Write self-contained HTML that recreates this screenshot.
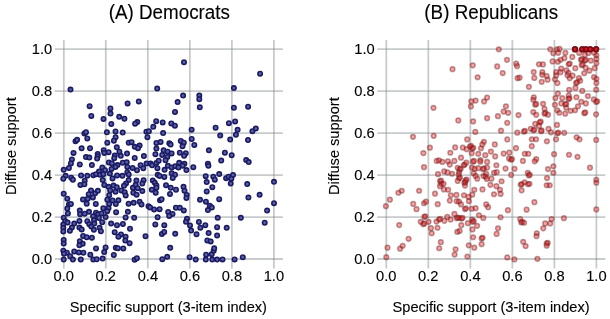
<!DOCTYPE html>
<html><head><meta charset="utf-8"><style>
html,body{margin:0;padding:0;background:#fff;}
svg{display:block;font-family:"Liberation Sans",sans-serif;will-change:transform;}
</style></head><body>
<svg width="610" height="319" viewBox="0 0 610 319">
<g stroke="rgba(130,136,138,0.44)" stroke-width="1.8"><line x1="63.80" y1="40" x2="63.80" y2="268.5" /><line x1="105.82" y1="40" x2="105.82" y2="268.5" /><line x1="147.84" y1="40" x2="147.84" y2="268.5" /><line x1="189.86" y1="40" x2="189.86" y2="268.5" /><line x1="231.88" y1="40" x2="231.88" y2="268.5" /><line x1="273.90" y1="40" x2="273.90" y2="268.5" /><line x1="54.80" y1="259.00" x2="282.90" y2="259.00" /><line x1="54.80" y1="217.04" x2="282.90" y2="217.04" /><line x1="54.80" y1="175.08" x2="282.90" y2="175.08" /><line x1="54.80" y1="133.12" x2="282.90" y2="133.12" /><line x1="54.80" y1="91.16" x2="282.90" y2="91.16" /><line x1="54.80" y1="49.20" x2="282.90" y2="49.20" /><line x1="386.30" y1="40" x2="386.30" y2="268.5" /><line x1="428.32" y1="40" x2="428.32" y2="268.5" /><line x1="470.34" y1="40" x2="470.34" y2="268.5" /><line x1="512.36" y1="40" x2="512.36" y2="268.5" /><line x1="554.38" y1="40" x2="554.38" y2="268.5" /><line x1="596.40" y1="40" x2="596.40" y2="268.5" /><line x1="377.30" y1="259.00" x2="605.40" y2="259.00" /><line x1="377.30" y1="217.04" x2="605.40" y2="217.04" /><line x1="377.30" y1="175.08" x2="605.40" y2="175.08" /><line x1="377.30" y1="133.12" x2="605.40" y2="133.12" /><line x1="377.30" y1="91.16" x2="605.40" y2="91.16" /><line x1="377.30" y1="49.20" x2="605.40" y2="49.20" /></g><g fill="#000" stroke="#000" stroke-width="0.12"><text transform="translate(169.3,19.0) scale(1,1.05)" font-size="18.8" text-anchor="middle">(A) Democrats</text><text transform="translate(491.2,19.0) scale(1,1.05)" font-size="18.8" text-anchor="middle">(B) Republicans</text><text transform="translate(63.80,280.9) scale(1.05,1)" font-size="14" text-anchor="middle">0.0</text><text transform="translate(105.82,280.9) scale(1.05,1)" font-size="14" text-anchor="middle">0.2</text><text transform="translate(147.84,280.9) scale(1.05,1)" font-size="14" text-anchor="middle">0.4</text><text transform="translate(189.86,280.9) scale(1.05,1)" font-size="14" text-anchor="middle">0.6</text><text transform="translate(231.88,280.9) scale(1.05,1)" font-size="14" text-anchor="middle">0.8</text><text transform="translate(273.90,280.9) scale(1.05,1)" font-size="14" text-anchor="middle">1.0</text><text transform="translate(52.15,263.95) scale(1.05,1)" font-size="14" text-anchor="end">0.0</text><text transform="translate(52.15,221.99) scale(1.05,1)" font-size="14" text-anchor="end">0.2</text><text transform="translate(52.15,180.03) scale(1.05,1)" font-size="14" text-anchor="end">0.4</text><text transform="translate(52.15,138.07) scale(1.05,1)" font-size="14" text-anchor="end">0.6</text><text transform="translate(52.15,96.11) scale(1.05,1)" font-size="14" text-anchor="end">0.8</text><text transform="translate(52.15,54.15) scale(1.05,1)" font-size="14" text-anchor="end">1.0</text><text x="168.40" y="311.7" font-size="14.6" text-anchor="middle">Specific support (3-item index)</text><text transform="translate(16.00,146.2) rotate(-90) scale(1,1.06)" font-size="14.6" text-anchor="middle">Diffuse support</text><text transform="translate(386.30,280.9) scale(1.05,1)" font-size="14" text-anchor="middle">0.0</text><text transform="translate(428.32,280.9) scale(1.05,1)" font-size="14" text-anchor="middle">0.2</text><text transform="translate(470.34,280.9) scale(1.05,1)" font-size="14" text-anchor="middle">0.4</text><text transform="translate(512.36,280.9) scale(1.05,1)" font-size="14" text-anchor="middle">0.6</text><text transform="translate(554.38,280.9) scale(1.05,1)" font-size="14" text-anchor="middle">0.8</text><text transform="translate(596.40,280.9) scale(1.05,1)" font-size="14" text-anchor="middle">1.0</text><text transform="translate(374.65,263.95) scale(1.05,1)" font-size="14" text-anchor="end">0.0</text><text transform="translate(374.65,221.99) scale(1.05,1)" font-size="14" text-anchor="end">0.2</text><text transform="translate(374.65,180.03) scale(1.05,1)" font-size="14" text-anchor="end">0.4</text><text transform="translate(374.65,138.07) scale(1.05,1)" font-size="14" text-anchor="end">0.6</text><text transform="translate(374.65,96.11) scale(1.05,1)" font-size="14" text-anchor="end">0.8</text><text transform="translate(374.65,54.15) scale(1.05,1)" font-size="14" text-anchor="end">1.0</text><text x="491.10" y="311.7" font-size="14.6" text-anchor="middle">Specific support (3-item index)</text><text transform="translate(338.50,146.2) rotate(-90) scale(1,1.06)" font-size="14.6" text-anchor="middle">Diffuse support</text></g><g fill="#5b5ea8" stroke="#1a1b62" stroke-width="1.6"><circle cx="184.00" cy="62.25" r="2.2"/><circle cx="260.10" cy="73.65" r="2.2"/><circle cx="70.50" cy="89.55" r="2.2"/><circle cx="89.60" cy="106.15" r="2.2"/><circle cx="91.30" cy="115.95" r="2.2"/><circle cx="103.50" cy="118.95" r="2.2"/><circle cx="110.40" cy="108.45" r="2.2"/><circle cx="110.50" cy="113.55" r="2.2"/><circle cx="119.20" cy="116.85" r="2.2"/><circle cx="124.40" cy="118.75" r="2.2"/><circle cx="127.60" cy="103.45" r="2.2"/><circle cx="111.30" cy="123.95" r="2.2"/><circle cx="157.20" cy="88.55" r="2.2"/><circle cx="138.80" cy="101.55" r="2.2"/><circle cx="183.10" cy="95.55" r="2.2"/><circle cx="177.60" cy="102.05" r="2.2"/><circle cx="175.00" cy="111.95" r="2.2"/><circle cx="199.30" cy="95.55" r="2.2"/><circle cx="199.30" cy="99.15" r="2.2"/><circle cx="199.80" cy="107.35" r="2.2"/><circle cx="137.30" cy="122.05" r="2.2"/><circle cx="156.20" cy="121.15" r="2.2"/><circle cx="162.70" cy="122.45" r="2.2"/><circle cx="171.30" cy="123.45" r="2.2"/><circle cx="233.90" cy="88.05" r="2.2"/><circle cx="233.90" cy="107.75" r="2.2"/><circle cx="248.10" cy="106.65" r="2.2"/><circle cx="235.10" cy="121.45" r="2.2"/><circle cx="228.90" cy="123.15" r="2.2"/><circle cx="84.40" cy="133.55" r="2.2"/><circle cx="86.00" cy="132.15" r="2.2"/><circle cx="87.30" cy="138.45" r="2.2"/><circle cx="75.50" cy="141.15" r="2.2"/><circle cx="77.10" cy="139.85" r="2.2"/><circle cx="106.90" cy="132.35" r="2.2"/><circle cx="115.50" cy="131.45" r="2.2"/><circle cx="122.70" cy="132.55" r="2.2"/><circle cx="115.60" cy="137.15" r="2.2"/><circle cx="113.90" cy="140.65" r="2.2"/><circle cx="107.30" cy="142.65" r="2.2"/><circle cx="128.70" cy="142.75" r="2.2"/><circle cx="131.60" cy="142.15" r="2.2"/><circle cx="81.60" cy="148.35" r="2.2"/><circle cx="90.00" cy="148.35" r="2.2"/><circle cx="73.50" cy="152.95" r="2.2"/><circle cx="86.00" cy="157.05" r="2.2"/><circle cx="89.30" cy="157.55" r="2.2"/><circle cx="71.90" cy="159.45" r="2.2"/><circle cx="70.90" cy="163.45" r="2.2"/><circle cx="79.80" cy="164.45" r="2.2"/><circle cx="91.90" cy="165.05" r="2.2"/><circle cx="116.80" cy="147.35" r="2.2"/><circle cx="134.80" cy="146.85" r="2.2"/><circle cx="103.70" cy="150.25" r="2.2"/><circle cx="104.30" cy="152.95" r="2.2"/><circle cx="108.60" cy="152.25" r="2.2"/><circle cx="119.40" cy="151.65" r="2.2"/><circle cx="120.80" cy="155.85" r="2.2"/><circle cx="127.00" cy="153.55" r="2.2"/><circle cx="114.80" cy="155.55" r="2.2"/><circle cx="114.20" cy="158.15" r="2.2"/><circle cx="97.70" cy="153.95" r="2.2"/><circle cx="97.70" cy="156.25" r="2.2"/><circle cx="97.10" cy="158.55" r="2.2"/><circle cx="108.90" cy="162.45" r="2.2"/><circle cx="111.90" cy="163.45" r="2.2"/><circle cx="122.70" cy="162.75" r="2.2"/><circle cx="126.70" cy="162.15" r="2.2"/><circle cx="117.50" cy="165.05" r="2.2"/><circle cx="153.30" cy="126.85" r="2.2"/><circle cx="174.90" cy="125.65" r="2.2"/><circle cx="146.40" cy="131.75" r="2.2"/><circle cx="148.90" cy="131.25" r="2.2"/><circle cx="147.40" cy="137.15" r="2.2"/><circle cx="163.10" cy="133.05" r="2.2"/><circle cx="191.60" cy="129.75" r="2.2"/><circle cx="191.70" cy="138.95" r="2.2"/><circle cx="194.30" cy="144.95" r="2.2"/><circle cx="139.60" cy="145.55" r="2.2"/><circle cx="138.00" cy="148.15" r="2.2"/><circle cx="156.40" cy="142.95" r="2.2"/><circle cx="160.60" cy="141.95" r="2.2"/><circle cx="156.40" cy="148.55" r="2.2"/><circle cx="169.30" cy="143.25" r="2.2"/><circle cx="170.60" cy="144.55" r="2.2"/><circle cx="180.80" cy="140.95" r="2.2"/><circle cx="183.80" cy="142.65" r="2.2"/><circle cx="182.50" cy="146.25" r="2.2"/><circle cx="163.60" cy="150.35" r="2.2"/><circle cx="167.60" cy="151.65" r="2.2"/><circle cx="171.60" cy="153.45" r="2.2"/><circle cx="155.40" cy="154.15" r="2.2"/><circle cx="162.20" cy="154.95" r="2.2"/><circle cx="143.90" cy="156.05" r="2.2"/><circle cx="179.80" cy="152.75" r="2.2"/><circle cx="185.80" cy="153.15" r="2.2"/><circle cx="184.10" cy="155.75" r="2.2"/><circle cx="215.60" cy="127.75" r="2.2"/><circle cx="237.60" cy="129.85" r="2.2"/><circle cx="235.90" cy="134.65" r="2.2"/><circle cx="220.20" cy="135.55" r="2.2"/><circle cx="230.20" cy="139.55" r="2.2"/><circle cx="248.00" cy="140.05" r="2.2"/><circle cx="252.40" cy="131.15" r="2.2"/><circle cx="255.80" cy="128.55" r="2.2"/><circle cx="208.90" cy="150.35" r="2.2"/><circle cx="224.90" cy="152.75" r="2.2"/><circle cx="231.70" cy="155.15" r="2.2"/><circle cx="221.20" cy="160.55" r="2.2"/><circle cx="207.90" cy="163.75" r="2.2"/><circle cx="208.40" cy="165.85" r="2.2"/><circle cx="246.20" cy="160.05" r="2.2"/><circle cx="248.70" cy="162.05" r="2.2"/><circle cx="68.90" cy="167.95" r="2.2"/><circle cx="63.70" cy="169.85" r="2.2"/><circle cx="65.60" cy="175.85" r="2.2"/><circle cx="63.30" cy="178.75" r="2.2"/><circle cx="71.20" cy="177.75" r="2.2"/><circle cx="72.90" cy="179.75" r="2.2"/><circle cx="81.10" cy="175.45" r="2.2"/><circle cx="87.30" cy="175.85" r="2.2"/><circle cx="93.30" cy="175.15" r="2.2"/><circle cx="84.70" cy="180.75" r="2.2"/><circle cx="115.50" cy="166.95" r="2.2"/><circle cx="111.50" cy="168.95" r="2.2"/><circle cx="127.30" cy="166.95" r="2.2"/><circle cx="132.60" cy="167.95" r="2.2"/><circle cx="102.30" cy="167.55" r="2.2"/><circle cx="105.00" cy="170.25" r="2.2"/><circle cx="99.00" cy="171.55" r="2.2"/><circle cx="96.10" cy="174.15" r="2.2"/><circle cx="100.00" cy="174.85" r="2.2"/><circle cx="103.30" cy="174.15" r="2.2"/><circle cx="109.90" cy="173.55" r="2.2"/><circle cx="127.30" cy="172.15" r="2.2"/><circle cx="128.70" cy="174.45" r="2.2"/><circle cx="117.10" cy="175.45" r="2.2"/><circle cx="122.40" cy="175.85" r="2.2"/><circle cx="112.50" cy="178.45" r="2.2"/><circle cx="102.70" cy="180.05" r="2.2"/><circle cx="128.70" cy="180.05" r="2.2"/><circle cx="134.70" cy="157.95" r="2.2"/><circle cx="167.30" cy="156.95" r="2.2"/><circle cx="165.50" cy="160.25" r="2.2"/><circle cx="137.00" cy="170.15" r="2.2"/><circle cx="140.60" cy="165.25" r="2.2"/><circle cx="143.30" cy="168.15" r="2.2"/><circle cx="146.50" cy="163.55" r="2.2"/><circle cx="150.50" cy="163.55" r="2.2"/><circle cx="152.10" cy="165.25" r="2.2"/><circle cx="156.40" cy="162.95" r="2.2"/><circle cx="158.70" cy="160.65" r="2.2"/><circle cx="157.40" cy="168.15" r="2.2"/><circle cx="164.60" cy="169.85" r="2.2"/><circle cx="167.90" cy="165.85" r="2.2"/><circle cx="157.70" cy="174.75" r="2.2"/><circle cx="164.30" cy="176.95" r="2.2"/><circle cx="171.60" cy="167.45" r="2.2"/><circle cx="175.20" cy="166.15" r="2.2"/><circle cx="179.20" cy="162.85" r="2.2"/><circle cx="184.40" cy="163.85" r="2.2"/><circle cx="182.60" cy="165.65" r="2.2"/><circle cx="178.50" cy="167.45" r="2.2"/><circle cx="186.40" cy="170.05" r="2.2"/><circle cx="193.30" cy="167.15" r="2.2"/><circle cx="80.40" cy="184.95" r="2.2"/><circle cx="84.40" cy="184.25" r="2.2"/><circle cx="63.70" cy="193.75" r="2.2"/><circle cx="91.00" cy="190.45" r="2.2"/><circle cx="88.70" cy="194.15" r="2.2"/><circle cx="95.10" cy="193.35" r="2.2"/><circle cx="97.90" cy="190.85" r="2.2"/><circle cx="104.30" cy="184.95" r="2.2"/><circle cx="108.60" cy="186.85" r="2.2"/><circle cx="113.50" cy="185.55" r="2.2"/><circle cx="116.80" cy="187.25" r="2.2"/><circle cx="110.20" cy="190.45" r="2.2"/><circle cx="115.50" cy="191.85" r="2.2"/><circle cx="109.20" cy="195.15" r="2.2"/><circle cx="126.00" cy="183.55" r="2.2"/><circle cx="124.00" cy="185.85" r="2.2"/><circle cx="121.40" cy="190.45" r="2.2"/><circle cx="124.70" cy="192.15" r="2.2"/><circle cx="125.70" cy="195.45" r="2.2"/><circle cx="132.90" cy="187.85" r="2.2"/><circle cx="133.30" cy="192.75" r="2.2"/><circle cx="92.90" cy="197.45" r="2.2"/><circle cx="87.70" cy="198.85" r="2.2"/><circle cx="83.00" cy="199.45" r="2.2"/><circle cx="107.30" cy="199.75" r="2.2"/><circle cx="112.60" cy="200.45" r="2.2"/><circle cx="136.40" cy="180.55" r="2.2"/><circle cx="143.60" cy="180.25" r="2.2"/><circle cx="142.30" cy="183.55" r="2.2"/><circle cx="135.70" cy="184.85" r="2.2"/><circle cx="137.70" cy="188.15" r="2.2"/><circle cx="142.30" cy="191.05" r="2.2"/><circle cx="159.60" cy="175.95" r="2.2"/><circle cx="152.80" cy="180.55" r="2.2"/><circle cx="154.80" cy="182.85" r="2.2"/><circle cx="156.40" cy="185.45" r="2.2"/><circle cx="156.40" cy="187.75" r="2.2"/><circle cx="151.80" cy="189.75" r="2.2"/><circle cx="166.00" cy="185.15" r="2.2"/><circle cx="171.70" cy="173.35" r="2.2"/><circle cx="175.00" cy="174.65" r="2.2"/><circle cx="172.70" cy="177.95" r="2.2"/><circle cx="170.70" cy="187.75" r="2.2"/><circle cx="176.00" cy="189.75" r="2.2"/><circle cx="183.50" cy="186.85" r="2.2"/><circle cx="184.50" cy="190.75" r="2.2"/><circle cx="205.70" cy="176.15" r="2.2"/><circle cx="213.30" cy="176.65" r="2.2"/><circle cx="214.80" cy="179.65" r="2.2"/><circle cx="219.20" cy="174.05" r="2.2"/><circle cx="206.70" cy="182.05" r="2.2"/><circle cx="212.30" cy="187.15" r="2.2"/><circle cx="206.70" cy="191.45" r="2.2"/><circle cx="226.10" cy="178.15" r="2.2"/><circle cx="228.50" cy="176.65" r="2.2"/><circle cx="233.00" cy="175.05" r="2.2"/><circle cx="231.30" cy="178.65" r="2.2"/><circle cx="230.70" cy="183.55" r="2.2"/><circle cx="247.20" cy="184.05" r="2.2"/><circle cx="274.00" cy="181.85" r="2.2"/><circle cx="259.60" cy="194.85" r="2.2"/><circle cx="67.30" cy="198.65" r="2.2"/><circle cx="68.90" cy="204.55" r="2.2"/><circle cx="70.90" cy="203.95" r="2.2"/><circle cx="67.30" cy="208.55" r="2.2"/><circle cx="67.90" cy="213.45" r="2.2"/><circle cx="63.70" cy="217.75" r="2.2"/><circle cx="86.70" cy="203.75" r="2.2"/><circle cx="95.80" cy="203.95" r="2.2"/><circle cx="79.80" cy="210.55" r="2.2"/><circle cx="80.10" cy="214.15" r="2.2"/><circle cx="84.70" cy="213.75" r="2.2"/><circle cx="89.00" cy="211.85" r="2.2"/><circle cx="118.40" cy="200.35" r="2.2"/><circle cx="109.20" cy="203.95" r="2.2"/><circle cx="115.80" cy="203.95" r="2.2"/><circle cx="103.30" cy="208.25" r="2.2"/><circle cx="108.50" cy="208.25" r="2.2"/><circle cx="107.20" cy="211.15" r="2.2"/><circle cx="116.10" cy="212.15" r="2.2"/><circle cx="128.60" cy="203.65" r="2.2"/><circle cx="127.90" cy="211.85" r="2.2"/><circle cx="96.00" cy="212.65" r="2.2"/><circle cx="98.10" cy="214.35" r="2.2"/><circle cx="101.60" cy="213.45" r="2.2"/><circle cx="93.10" cy="216.15" r="2.2"/><circle cx="105.60" cy="217.05" r="2.2"/><circle cx="125.60" cy="217.45" r="2.2"/><circle cx="136.60" cy="194.65" r="2.2"/><circle cx="155.70" cy="192.65" r="2.2"/><circle cx="160.00" cy="200.25" r="2.2"/><circle cx="161.60" cy="199.25" r="2.2"/><circle cx="133.70" cy="202.85" r="2.2"/><circle cx="139.60" cy="201.85" r="2.2"/><circle cx="141.50" cy="204.45" r="2.2"/><circle cx="148.50" cy="206.15" r="2.2"/><circle cx="150.10" cy="207.45" r="2.2"/><circle cx="154.10" cy="209.45" r="2.2"/><circle cx="159.60" cy="209.15" r="2.2"/><circle cx="170.00" cy="193.95" r="2.2"/><circle cx="186.70" cy="194.95" r="2.2"/><circle cx="186.40" cy="197.95" r="2.2"/><circle cx="175.90" cy="207.75" r="2.2"/><circle cx="179.80" cy="207.75" r="2.2"/><circle cx="183.80" cy="210.45" r="2.2"/><circle cx="168.20" cy="211.95" r="2.2"/><circle cx="200.00" cy="199.85" r="2.2"/><circle cx="205.90" cy="201.65" r="2.2"/><circle cx="219.20" cy="199.15" r="2.2"/><circle cx="209.80" cy="205.85" r="2.2"/><circle cx="211.80" cy="207.55" r="2.2"/><circle cx="207.90" cy="210.05" r="2.2"/><circle cx="217.70" cy="217.85" r="2.2"/><circle cx="240.80" cy="217.85" r="2.2"/><circle cx="248.40" cy="197.55" r="2.2"/><circle cx="274.00" cy="203.15" r="2.2"/><circle cx="267.10" cy="210.55" r="2.2"/><circle cx="65.30" cy="221.25" r="2.2"/><circle cx="67.60" cy="222.55" r="2.2"/><circle cx="63.30" cy="224.55" r="2.2"/><circle cx="63.30" cy="227.85" r="2.2"/><circle cx="63.30" cy="231.45" r="2.2"/><circle cx="74.20" cy="223.55" r="2.2"/><circle cx="71.90" cy="227.55" r="2.2"/><circle cx="69.90" cy="230.85" r="2.2"/><circle cx="79.40" cy="220.95" r="2.2"/><circle cx="79.40" cy="227.55" r="2.2"/><circle cx="81.70" cy="229.45" r="2.2"/><circle cx="87.30" cy="221.25" r="2.2"/><circle cx="89.30" cy="224.25" r="2.2"/><circle cx="91.30" cy="226.55" r="2.2"/><circle cx="93.90" cy="229.85" r="2.2"/><circle cx="98.90" cy="217.95" r="2.2"/><circle cx="102.20" cy="222.25" r="2.2"/><circle cx="94.00" cy="220.25" r="2.2"/><circle cx="94.30" cy="223.55" r="2.2"/><circle cx="99.60" cy="227.85" r="2.2"/><circle cx="100.90" cy="231.15" r="2.2"/><circle cx="111.10" cy="223.55" r="2.2"/><circle cx="117.00" cy="225.25" r="2.2"/><circle cx="122.90" cy="223.95" r="2.2"/><circle cx="114.70" cy="232.15" r="2.2"/><circle cx="121.00" cy="234.45" r="2.2"/><circle cx="134.20" cy="217.85" r="2.2"/><circle cx="130.00" cy="228.75" r="2.2"/><circle cx="157.60" cy="217.25" r="2.2"/><circle cx="155.30" cy="224.45" r="2.2"/><circle cx="164.30" cy="225.15" r="2.2"/><circle cx="172.50" cy="213.95" r="2.2"/><circle cx="169.20" cy="215.95" r="2.2"/><circle cx="187.00" cy="218.85" r="2.2"/><circle cx="186.00" cy="221.85" r="2.2"/><circle cx="190.00" cy="225.45" r="2.2"/><circle cx="198.90" cy="221.95" r="2.2"/><circle cx="191.10" cy="230.55" r="2.2"/><circle cx="200.40" cy="227.65" r="2.2"/><circle cx="205.30" cy="225.15" r="2.2"/><circle cx="196.50" cy="234.25" r="2.2"/><circle cx="208.60" cy="233.05" r="2.2"/><circle cx="217.10" cy="227.15" r="2.2"/><circle cx="217.10" cy="235.55" r="2.2"/><circle cx="226.70" cy="227.85" r="2.2"/><circle cx="207.30" cy="240.45" r="2.2"/><circle cx="210.70" cy="241.45" r="2.2"/><circle cx="264.70" cy="222.75" r="2.2"/><circle cx="63.70" cy="239.95" r="2.2"/><circle cx="63.70" cy="243.55" r="2.2"/><circle cx="83.10" cy="235.95" r="2.2"/><circle cx="86.70" cy="237.25" r="2.2"/><circle cx="91.90" cy="237.65" r="2.2"/><circle cx="79.80" cy="241.25" r="2.2"/><circle cx="82.70" cy="243.85" r="2.2"/><circle cx="79.40" cy="245.15" r="2.2"/><circle cx="63.30" cy="250.75" r="2.2"/><circle cx="66.90" cy="252.75" r="2.2"/><circle cx="74.20" cy="251.45" r="2.2"/><circle cx="78.80" cy="252.45" r="2.2"/><circle cx="83.40" cy="252.75" r="2.2"/><circle cx="64.00" cy="253.65" r="2.2"/><circle cx="70.20" cy="256.25" r="2.2"/><circle cx="72.90" cy="259.55" r="2.2"/><circle cx="63.70" cy="259.55" r="2.2"/><circle cx="80.80" cy="259.55" r="2.2"/><circle cx="90.30" cy="254.65" r="2.2"/><circle cx="93.30" cy="259.55" r="2.2"/><circle cx="118.40" cy="236.65" r="2.2"/><circle cx="125.60" cy="236.65" r="2.2"/><circle cx="125.30" cy="240.55" r="2.2"/><circle cx="129.60" cy="243.25" r="2.2"/><circle cx="96.00" cy="248.45" r="2.2"/><circle cx="105.60" cy="247.45" r="2.2"/><circle cx="104.20" cy="252.05" r="2.2"/><circle cx="115.80" cy="247.85" r="2.2"/><circle cx="117.90" cy="248.15" r="2.2"/><circle cx="123.30" cy="248.45" r="2.2"/><circle cx="102.60" cy="258.55" r="2.2"/><circle cx="113.80" cy="254.95" r="2.2"/><circle cx="96.70" cy="259.25" r="2.2"/><circle cx="145.50" cy="236.25" r="2.2"/><circle cx="161.90" cy="233.95" r="2.2"/><circle cx="164.20" cy="231.95" r="2.2"/><circle cx="134.60" cy="259.75" r="2.2"/><circle cx="136.90" cy="258.15" r="2.2"/><circle cx="162.30" cy="259.15" r="2.2"/><circle cx="170.20" cy="247.85" r="2.2"/><circle cx="175.20" cy="233.85" r="2.2"/><circle cx="167.20" cy="256.85" r="2.2"/><circle cx="189.60" cy="257.25" r="2.2"/><circle cx="195.70" cy="259.55" r="2.2"/><circle cx="205.80" cy="259.55" r="2.2"/><circle cx="206.10" cy="254.65" r="2.2"/><circle cx="211.70" cy="254.15" r="2.2"/><circle cx="213.70" cy="250.65" r="2.2"/><circle cx="214.20" cy="248.35" r="2.2"/><circle cx="212.20" cy="259.55" r="2.2"/><circle cx="217.10" cy="259.55" r="2.2"/><circle cx="222.50" cy="259.45" r="2.2"/><circle cx="234.60" cy="259.45" r="2.2"/><circle cx="242.80" cy="257.25" r="2.2"/><circle cx="135.10" cy="123.65" r="2.2"/></g><g fill="rgba(235,25,30,0.40)" stroke="rgba(110,25,25,0.45)" stroke-width="1.5"><circle cx="452.50" cy="69.15" r="2.35"/><circle cx="472.70" cy="65.35" r="2.35"/><circle cx="477.60" cy="77.25" r="2.35"/><circle cx="498.80" cy="49.35" r="2.35"/><circle cx="507.00" cy="59.85" r="2.35"/><circle cx="497.20" cy="66.45" r="2.35"/><circle cx="516.20" cy="63.65" r="2.35"/><circle cx="517.10" cy="66.15" r="2.35"/><circle cx="539.00" cy="64.25" r="2.35"/><circle cx="542.90" cy="64.45" r="2.35"/><circle cx="550.30" cy="49.25" r="2.35"/><circle cx="553.30" cy="53.25" r="2.35"/><circle cx="556.90" cy="49.25" r="2.35"/><circle cx="559.50" cy="48.95" r="2.35"/><circle cx="558.20" cy="52.85" r="2.35"/><circle cx="565.40" cy="52.85" r="2.35"/><circle cx="564.40" cy="58.15" r="2.35"/><circle cx="560.50" cy="59.75" r="2.35"/><circle cx="557.90" cy="61.75" r="2.35"/><circle cx="552.60" cy="61.45" r="2.35"/><circle cx="572.30" cy="56.95" r="2.35"/><circle cx="575.00" cy="49.25" r="2.35"/><circle cx="575.00" cy="49.25" r="2.35"/><circle cx="575.00" cy="49.25" r="2.35"/><circle cx="582.30" cy="49.25" r="2.35"/><circle cx="582.30" cy="49.25" r="2.35"/><circle cx="585.90" cy="49.25" r="2.35"/><circle cx="585.90" cy="49.25" r="2.35"/><circle cx="590.20" cy="49.25" r="2.35"/><circle cx="590.20" cy="49.25" r="2.35"/><circle cx="596.10" cy="49.25" r="2.35"/><circle cx="596.10" cy="49.25" r="2.35"/><circle cx="596.10" cy="49.25" r="2.35"/><circle cx="579.20" cy="52.95" r="2.35"/><circle cx="584.80" cy="54.95" r="2.35"/><circle cx="588.50" cy="52.95" r="2.35"/><circle cx="594.10" cy="52.65" r="2.35"/><circle cx="596.40" cy="55.25" r="2.35"/><circle cx="596.40" cy="58.95" r="2.35"/><circle cx="596.40" cy="63.15" r="2.35"/><circle cx="594.70" cy="68.15" r="2.35"/><circle cx="580.90" cy="59.85" r="2.35"/><circle cx="581.90" cy="59.15" r="2.35"/><circle cx="584.80" cy="60.55" r="2.35"/><circle cx="585.80" cy="59.85" r="2.35"/><circle cx="581.70" cy="65.15" r="2.35"/><circle cx="582.70" cy="64.45" r="2.35"/><circle cx="590.80" cy="60.55" r="2.35"/><circle cx="568.70" cy="64.25" r="2.35"/><circle cx="569.70" cy="63.55" r="2.35"/><circle cx="575.30" cy="68.15" r="2.35"/><circle cx="585.70" cy="67.85" r="2.35"/><circle cx="589.40" cy="70.65" r="2.35"/><circle cx="584.20" cy="73.25" r="2.35"/><circle cx="569.70" cy="78.15" r="2.35"/><circle cx="578.90" cy="78.15" r="2.35"/><circle cx="580.20" cy="80.75" r="2.35"/><circle cx="576.00" cy="83.05" r="2.35"/><circle cx="594.00" cy="77.15" r="2.35"/><circle cx="596.40" cy="78.85" r="2.35"/><circle cx="596.40" cy="83.05" r="2.35"/><circle cx="542.40" cy="72.15" r="2.35"/><circle cx="546.70" cy="76.05" r="2.35"/><circle cx="556.20" cy="72.15" r="2.35"/><circle cx="561.20" cy="68.55" r="2.35"/><circle cx="560.50" cy="72.15" r="2.35"/><circle cx="566.40" cy="70.35" r="2.35"/><circle cx="568.40" cy="72.75" r="2.35"/><circle cx="572.60" cy="75.65" r="2.35"/><circle cx="567.50" cy="75.35" r="2.35"/><circle cx="556.20" cy="75.45" r="2.35"/><circle cx="502.70" cy="73.05" r="2.35"/><circle cx="517.60" cy="78.15" r="2.35"/><circle cx="519.60" cy="77.65" r="2.35"/><circle cx="528.90" cy="86.85" r="2.35"/><circle cx="533.70" cy="72.05" r="2.35"/><circle cx="534.30" cy="77.95" r="2.35"/><circle cx="542.20" cy="74.85" r="2.35"/><circle cx="541.70" cy="81.85" r="2.35"/><circle cx="547.60" cy="79.65" r="2.35"/><circle cx="554.90" cy="79.35" r="2.35"/><circle cx="557.40" cy="83.05" r="2.35"/><circle cx="577.00" cy="82.35" r="2.35"/><circle cx="575.40" cy="87.95" r="2.35"/><circle cx="569.20" cy="89.95" r="2.35"/><circle cx="582.30" cy="90.95" r="2.35"/><circle cx="596.20" cy="89.65" r="2.35"/><circle cx="557.90" cy="93.55" r="2.35"/><circle cx="555.40" cy="98.05" r="2.35"/><circle cx="562.30" cy="98.05" r="2.35"/><circle cx="568.70" cy="95.55" r="2.35"/><circle cx="568.50" cy="98.95" r="2.35"/><circle cx="569.50" cy="98.25" r="2.35"/><circle cx="576.40" cy="97.25" r="2.35"/><circle cx="587.90" cy="96.05" r="2.35"/><circle cx="593.80" cy="99.45" r="2.35"/><circle cx="596.20" cy="101.95" r="2.35"/><circle cx="597.20" cy="101.25" r="2.35"/><circle cx="581.30" cy="101.75" r="2.35"/><circle cx="585.90" cy="103.45" r="2.35"/><circle cx="561.30" cy="103.45" r="2.35"/><circle cx="565.30" cy="104.45" r="2.35"/><circle cx="566.30" cy="103.75" r="2.35"/><circle cx="554.90" cy="104.85" r="2.35"/><circle cx="578.00" cy="106.35" r="2.35"/><circle cx="433.50" cy="107.85" r="2.35"/><circle cx="470.90" cy="106.45" r="2.35"/><circle cx="487.10" cy="118.15" r="2.35"/><circle cx="497.90" cy="116.15" r="2.35"/><circle cx="505.90" cy="106.35" r="2.35"/><circle cx="503.60" cy="111.55" r="2.35"/><circle cx="508.20" cy="112.85" r="2.35"/><circle cx="507.20" cy="122.85" r="2.35"/><circle cx="518.50" cy="115.05" r="2.35"/><circle cx="533.80" cy="97.35" r="2.35"/><circle cx="533.30" cy="99.75" r="2.35"/><circle cx="535.20" cy="104.65" r="2.35"/><circle cx="536.20" cy="103.95" r="2.35"/><circle cx="543.10" cy="103.75" r="2.35"/><circle cx="533.30" cy="112.05" r="2.35"/><circle cx="536.20" cy="114.85" r="2.35"/><circle cx="535.20" cy="123.85" r="2.35"/><circle cx="539.70" cy="122.35" r="2.35"/><circle cx="540.70" cy="121.65" r="2.35"/><circle cx="544.50" cy="108.75" r="2.35"/><circle cx="544.50" cy="113.65" r="2.35"/><circle cx="545.50" cy="112.95" r="2.35"/><circle cx="548.00" cy="114.65" r="2.35"/><circle cx="557.30" cy="110.25" r="2.35"/><circle cx="559.30" cy="112.75" r="2.35"/><circle cx="565.20" cy="113.65" r="2.35"/><circle cx="566.20" cy="107.75" r="2.35"/><circle cx="570.60" cy="110.75" r="2.35"/><circle cx="575.00" cy="110.25" r="2.35"/><circle cx="584.30" cy="113.15" r="2.35"/><circle cx="585.30" cy="112.45" r="2.35"/><circle cx="596.10" cy="114.35" r="2.35"/><circle cx="557.00" cy="124.95" r="2.35"/><circle cx="541.60" cy="130.45" r="2.35"/><circle cx="548.50" cy="128.95" r="2.35"/><circle cx="550.90" cy="132.35" r="2.35"/><circle cx="557.30" cy="133.35" r="2.35"/><circle cx="558.30" cy="132.65" r="2.35"/><circle cx="564.20" cy="132.85" r="2.35"/><circle cx="458.30" cy="120.45" r="2.35"/><circle cx="473.10" cy="121.45" r="2.35"/><circle cx="475.30" cy="131.95" r="2.35"/><circle cx="413.00" cy="136.85" r="2.35"/><circle cx="433.70" cy="135.85" r="2.35"/><circle cx="467.20" cy="139.45" r="2.35"/><circle cx="429.90" cy="147.65" r="2.35"/><circle cx="423.40" cy="153.05" r="2.35"/><circle cx="455.10" cy="147.45" r="2.35"/><circle cx="450.30" cy="152.75" r="2.35"/><circle cx="462.80" cy="147.55" r="2.35"/><circle cx="466.70" cy="149.15" r="2.35"/><circle cx="470.00" cy="146.55" r="2.35"/><circle cx="471.00" cy="145.85" r="2.35"/><circle cx="472.30" cy="148.55" r="2.35"/><circle cx="473.30" cy="147.85" r="2.35"/><circle cx="471.70" cy="153.15" r="2.35"/><circle cx="478.30" cy="153.75" r="2.35"/><circle cx="501.00" cy="130.65" r="2.35"/><circle cx="507.30" cy="139.45" r="2.35"/><circle cx="483.90" cy="141.75" r="2.35"/><circle cx="482.30" cy="144.45" r="2.35"/><circle cx="494.80" cy="144.45" r="2.35"/><circle cx="481.00" cy="148.25" r="2.35"/><circle cx="490.90" cy="151.55" r="2.35"/><circle cx="485.30" cy="155.15" r="2.35"/><circle cx="495.20" cy="156.45" r="2.35"/><circle cx="503.70" cy="153.55" r="2.35"/><circle cx="509.30" cy="152.55" r="2.35"/><circle cx="509.00" cy="158.45" r="2.35"/><circle cx="511.00" cy="159.75" r="2.35"/><circle cx="512.00" cy="159.05" r="2.35"/><circle cx="480.40" cy="160.05" r="2.35"/><circle cx="517.30" cy="132.65" r="2.35"/><circle cx="523.90" cy="131.65" r="2.35"/><circle cx="524.90" cy="130.95" r="2.35"/><circle cx="530.80" cy="128.85" r="2.35"/><circle cx="533.40" cy="130.35" r="2.35"/><circle cx="534.40" cy="129.65" r="2.35"/><circle cx="539.00" cy="125.95" r="2.35"/><circle cx="541.10" cy="131.15" r="2.35"/><circle cx="531.80" cy="139.25" r="2.35"/><circle cx="536.10" cy="139.25" r="2.35"/><circle cx="546.90" cy="141.25" r="2.35"/><circle cx="531.80" cy="146.15" r="2.35"/><circle cx="516.00" cy="148.15" r="2.35"/><circle cx="556.10" cy="139.35" r="2.35"/><circle cx="576.60" cy="137.35" r="2.35"/><circle cx="579.50" cy="139.35" r="2.35"/><circle cx="596.20" cy="139.95" r="2.35"/><circle cx="554.10" cy="154.15" r="2.35"/><circle cx="569.00" cy="154.75" r="2.35"/><circle cx="577.50" cy="156.85" r="2.35"/><circle cx="524.80" cy="153.75" r="2.35"/><circle cx="528.30" cy="153.75" r="2.35"/><circle cx="522.90" cy="160.95" r="2.35"/><circle cx="536.20" cy="159.15" r="2.35"/><circle cx="534.70" cy="161.35" r="2.35"/><circle cx="514.50" cy="168.85" r="2.35"/><circle cx="511.10" cy="174.95" r="2.35"/><circle cx="527.80" cy="172.95" r="2.35"/><circle cx="528.80" cy="175.45" r="2.35"/><circle cx="529.80" cy="174.75" r="2.35"/><circle cx="548.00" cy="169.05" r="2.35"/><circle cx="553.40" cy="166.25" r="2.35"/><circle cx="553.40" cy="172.75" r="2.35"/><circle cx="547.00" cy="178.05" r="2.35"/><circle cx="590.00" cy="167.65" r="2.35"/><circle cx="596.30" cy="179.75" r="2.35"/><circle cx="596.30" cy="182.75" r="2.35"/><circle cx="424.00" cy="167.15" r="2.35"/><circle cx="401.70" cy="190.75" r="2.35"/><circle cx="398.40" cy="192.75" r="2.35"/><circle cx="419.10" cy="190.75" r="2.35"/><circle cx="389.90" cy="199.65" r="2.35"/><circle cx="385.90" cy="206.15" r="2.35"/><circle cx="413.20" cy="203.95" r="2.35"/><circle cx="416.50" cy="209.15" r="2.35"/><circle cx="424.00" cy="203.25" r="2.35"/><circle cx="426.00" cy="201.65" r="2.35"/><circle cx="461.00" cy="157.65" r="2.35"/><circle cx="436.70" cy="160.95" r="2.35"/><circle cx="439.00" cy="160.25" r="2.35"/><circle cx="442.30" cy="161.95" r="2.35"/><circle cx="447.90" cy="161.25" r="2.35"/><circle cx="449.80" cy="164.55" r="2.35"/><circle cx="454.40" cy="160.95" r="2.35"/><circle cx="457.70" cy="167.85" r="2.35"/><circle cx="459.70" cy="169.45" r="2.35"/><circle cx="460.70" cy="168.75" r="2.35"/><circle cx="459.00" cy="172.45" r="2.35"/><circle cx="458.70" cy="174.75" r="2.35"/><circle cx="463.70" cy="165.25" r="2.35"/><circle cx="464.70" cy="164.55" r="2.35"/><circle cx="466.30" cy="162.55" r="2.35"/><circle cx="444.20" cy="171.45" r="2.35"/><circle cx="447.50" cy="172.45" r="2.35"/><circle cx="452.10" cy="173.75" r="2.35"/><circle cx="438.00" cy="174.15" r="2.35"/><circle cx="473.00" cy="161.65" r="2.35"/><circle cx="474.00" cy="160.95" r="2.35"/><circle cx="480.20" cy="161.65" r="2.35"/><circle cx="487.10" cy="161.95" r="2.35"/><circle cx="472.00" cy="167.55" r="2.35"/><circle cx="478.30" cy="168.15" r="2.35"/><circle cx="482.90" cy="169.15" r="2.35"/><circle cx="483.90" cy="168.45" r="2.35"/><circle cx="487.10" cy="167.55" r="2.35"/><circle cx="474.60" cy="168.85" r="2.35"/><circle cx="496.40" cy="165.25" r="2.35"/><circle cx="473.70" cy="173.15" r="2.35"/><circle cx="486.20" cy="173.75" r="2.35"/><circle cx="494.10" cy="172.75" r="2.35"/><circle cx="496.70" cy="172.15" r="2.35"/><circle cx="459.00" cy="178.25" r="2.35"/><circle cx="460.00" cy="177.55" r="2.35"/><circle cx="457.70" cy="180.95" r="2.35"/><circle cx="465.60" cy="180.25" r="2.35"/><circle cx="466.60" cy="179.55" r="2.35"/><circle cx="464.30" cy="182.85" r="2.35"/><circle cx="465.30" cy="182.15" r="2.35"/><circle cx="465.00" cy="185.55" r="2.35"/><circle cx="440.00" cy="181.25" r="2.35"/><circle cx="441.00" cy="180.55" r="2.35"/><circle cx="441.30" cy="183.85" r="2.35"/><circle cx="443.60" cy="183.85" r="2.35"/><circle cx="440.00" cy="186.15" r="2.35"/><circle cx="443.90" cy="189.45" r="2.35"/><circle cx="448.20" cy="189.75" r="2.35"/><circle cx="477.30" cy="178.65" r="2.35"/><circle cx="475.60" cy="175.95" r="2.35"/><circle cx="483.50" cy="175.95" r="2.35"/><circle cx="485.60" cy="176.65" r="2.35"/><circle cx="486.80" cy="178.95" r="2.35"/><circle cx="491.40" cy="178.65" r="2.35"/><circle cx="501.60" cy="181.25" r="2.35"/><circle cx="490.40" cy="184.85" r="2.35"/><circle cx="496.40" cy="186.15" r="2.35"/><circle cx="500.00" cy="189.75" r="2.35"/><circle cx="474.30" cy="189.75" r="2.35"/><circle cx="482.50" cy="189.45" r="2.35"/><circle cx="435.00" cy="193.65" r="2.35"/><circle cx="437.70" cy="204.15" r="2.35"/><circle cx="450.80" cy="195.25" r="2.35"/><circle cx="456.40" cy="194.95" r="2.35"/><circle cx="449.80" cy="200.55" r="2.35"/><circle cx="456.70" cy="201.15" r="2.35"/><circle cx="459.00" cy="201.55" r="2.35"/><circle cx="461.00" cy="204.45" r="2.35"/><circle cx="464.00" cy="195.25" r="2.35"/><circle cx="468.60" cy="196.95" r="2.35"/><circle cx="468.90" cy="201.15" r="2.35"/><circle cx="465.00" cy="209.05" r="2.35"/><circle cx="466.00" cy="208.35" r="2.35"/><circle cx="494.00" cy="194.25" r="2.35"/><circle cx="500.60" cy="193.95" r="2.35"/><circle cx="472.30" cy="194.65" r="2.35"/><circle cx="486.20" cy="204.45" r="2.35"/><circle cx="488.10" cy="207.15" r="2.35"/><circle cx="471.70" cy="208.75" r="2.35"/><circle cx="475.60" cy="208.15" r="2.35"/><circle cx="520.70" cy="184.75" r="2.35"/><circle cx="521.70" cy="184.05" r="2.35"/><circle cx="524.60" cy="182.25" r="2.35"/><circle cx="528.00" cy="184.25" r="2.35"/><circle cx="529.50" cy="183.75" r="2.35"/><circle cx="521.60" cy="190.35" r="2.35"/><circle cx="546.70" cy="185.25" r="2.35"/><circle cx="549.70" cy="185.25" r="2.35"/><circle cx="534.40" cy="202.15" r="2.35"/><circle cx="507.90" cy="210.15" r="2.35"/><circle cx="526.60" cy="209.65" r="2.35"/><circle cx="500.50" cy="217.25" r="2.35"/><circle cx="520.20" cy="219.05" r="2.35"/><circle cx="521.20" cy="222.45" r="2.35"/><circle cx="522.20" cy="221.75" r="2.35"/><circle cx="524.10" cy="222.75" r="2.35"/><circle cx="498.00" cy="228.35" r="2.35"/><circle cx="545.20" cy="223.45" r="2.35"/><circle cx="550.20" cy="223.45" r="2.35"/><circle cx="551.60" cy="219.05" r="2.35"/><circle cx="543.30" cy="228.35" r="2.35"/><circle cx="596.30" cy="209.45" r="2.35"/><circle cx="563.90" cy="218.15" r="2.35"/><circle cx="399.20" cy="225.05" r="2.35"/><circle cx="408.60" cy="238.85" r="2.35"/><circle cx="387.50" cy="247.65" r="2.35"/><circle cx="386.30" cy="257.15" r="2.35"/><circle cx="400.10" cy="248.65" r="2.35"/><circle cx="402.70" cy="245.75" r="2.35"/><circle cx="440.80" cy="242.15" r="2.35"/><circle cx="439.20" cy="248.25" r="2.35"/><circle cx="455.60" cy="249.25" r="2.35"/><circle cx="454.60" cy="254.55" r="2.35"/><circle cx="467.40" cy="256.55" r="2.35"/><circle cx="468.80" cy="245.35" r="2.35"/><circle cx="474.30" cy="247.65" r="2.35"/><circle cx="473.10" cy="237.25" r="2.35"/><circle cx="481.60" cy="238.45" r="2.35"/><circle cx="482.60" cy="237.75" r="2.35"/><circle cx="481.60" cy="244.15" r="2.35"/><circle cx="424.30" cy="216.95" r="2.35"/><circle cx="425.30" cy="216.25" r="2.35"/><circle cx="420.70" cy="221.85" r="2.35"/><circle cx="423.30" cy="224.15" r="2.35"/><circle cx="424.30" cy="223.45" r="2.35"/><circle cx="428.60" cy="221.85" r="2.35"/><circle cx="430.90" cy="228.15" r="2.35"/><circle cx="437.50" cy="227.75" r="2.35"/><circle cx="436.50" cy="221.55" r="2.35"/><circle cx="439.10" cy="219.55" r="2.35"/><circle cx="440.10" cy="218.85" r="2.35"/><circle cx="444.40" cy="220.85" r="2.35"/><circle cx="447.30" cy="216.95" r="2.35"/><circle cx="450.60" cy="219.55" r="2.35"/><circle cx="454.40" cy="213.95" r="2.35"/><circle cx="456.70" cy="218.25" r="2.35"/><circle cx="457.70" cy="217.55" r="2.35"/><circle cx="459.30" cy="217.95" r="2.35"/><circle cx="461.60" cy="218.55" r="2.35"/><circle cx="462.60" cy="217.85" r="2.35"/><circle cx="461.30" cy="225.15" r="2.35"/><circle cx="467.90" cy="223.15" r="2.35"/><circle cx="472.10" cy="219.55" r="2.35"/><circle cx="472.80" cy="221.85" r="2.35"/><circle cx="473.80" cy="221.15" r="2.35"/><circle cx="477.10" cy="225.85" r="2.35"/><circle cx="479.00" cy="215.25" r="2.35"/><circle cx="483.30" cy="217.95" r="2.35"/><circle cx="472.50" cy="229.45" r="2.35"/><circle cx="431.70" cy="233.25" r="2.35"/><circle cx="457.30" cy="231.95" r="2.35"/><circle cx="459.60" cy="230.95" r="2.35"/><circle cx="496.60" cy="233.95" r="2.35"/><circle cx="536.80" cy="233.25" r="2.35"/><circle cx="536.50" cy="236.15" r="2.35"/><circle cx="523.20" cy="241.75" r="2.35"/><circle cx="525.60" cy="246.05" r="2.35"/><circle cx="546.70" cy="243.45" r="2.35"/><circle cx="547.70" cy="242.75" r="2.35"/><circle cx="546.70" cy="245.65" r="2.35"/><circle cx="507.30" cy="257.45" r="2.35"/><circle cx="514.40" cy="259.45" r="2.35"/><circle cx="537.40" cy="258.85" r="2.35"/><circle cx="471.30" cy="101.45" r="2.35"/><circle cx="475.60" cy="100.55" r="2.35"/><circle cx="484.10" cy="101.45" r="2.35"/><circle cx="487.10" cy="97.55" r="2.35"/><circle cx="575.00" cy="49.25" r="2.35"/><circle cx="575.00" cy="49.25" r="2.35"/><circle cx="582.30" cy="49.25" r="2.35"/><circle cx="582.30" cy="49.25" r="2.35"/><circle cx="585.90" cy="49.25" r="2.35"/><circle cx="585.90" cy="49.25" r="2.35"/><circle cx="590.20" cy="49.25" r="2.35"/><circle cx="590.20" cy="49.25" r="2.35"/><circle cx="596.10" cy="49.25" r="2.35"/><circle cx="596.10" cy="49.25" r="2.35"/><circle cx="505.50" cy="168.55" r="2.35"/></g><g fill="rgba(190,20,30,0.55)" stroke="rgba(110,0,15,0.6)" stroke-width="1.5"><circle cx="575.00" cy="49.25" r="2.35"/><circle cx="582.30" cy="49.25" r="2.35"/><circle cx="585.90" cy="49.25" r="2.35"/><circle cx="590.20" cy="49.25" r="2.35"/><circle cx="596.10" cy="49.25" r="2.35"/></g>
</svg></body></html>
